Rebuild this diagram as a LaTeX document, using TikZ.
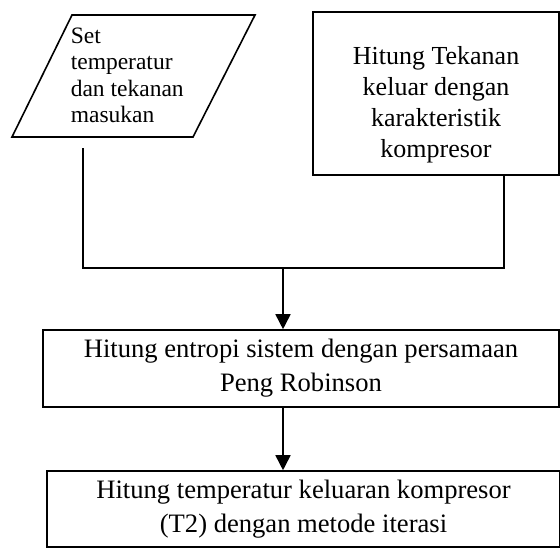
\documentclass[tikz,border=0pt]{standalone}
\usepackage{fontspec}
\setmainfont{Liberation Serif}
\usetikzlibrary{arrows.meta}

\tikzset{
  kotak/.style={draw, inner sep=0pt, align=center, font=\fontsize{13.3}{17}\selectfont},
  panah/.style={-{Triangle[length=7.5pt, width=7.5pt]}},
}

\begin{document}
\begin{tikzpicture}[x=0.5pt, y=-0.5pt, line width=0.8pt] % satuan = piksel gambar
    \useasboundingbox (0,0) rectangle (560,548); % ukuran gambar

    % masukan: jajar genjang
    \draw (12,137) -- (72,15) -- (255,15) -- (193,137) -- cycle;
    \node[anchor=north west, align=left, inner sep=0pt, font=\fontsize{11.75}{13.2}\selectfont]
      (masukan) at (70,27) {Set\\temperatur\\dan tekanan\\masukan};

    % tekanan keluar
    \node[kotak, minimum width=123pt, minimum height=81.5pt] (tekanan) at (436,93.5) {};
    \node[align=center, inner sep=0pt, font=\fontsize{13}{15.5}\selectfont]
      (tekanan-teks) at (436,105) {Hitung Tekanan\\keluar dengan\\karakteristik\\kompresor};

    % proses
    \node[kotak, minimum width=258pt, minimum height=38.5pt] (entropi) at (301,368.5)
      {Hitung entropi sistem dengan persamaan\\Peng Robinson};
    \node[kotak, minimum width=256.5pt, minimum height=38pt] (suhu) at (303.5,509)
      {Hitung temperatur keluaran kompresor\\(T2) dengan metode iterasi};

    % garis penghubung
    \coordinate (kiri) at (83,148);
    \coordinate (kanan) at ([xshift=34pt]tekanan.south);
    \coordinate (gabung) at (283,268);
    \draw (kiri) -- (kiri |- gabung) -- (kanan |- gabung) -- (kanan); % gabungan dua masukan
    \draw[panah] (gabung) -- (entropi.north -| gabung);
    \draw[panah] (gabung |- entropi.south) -- (gabung |- suhu.north);
\end{tikzpicture}
\end{document}
